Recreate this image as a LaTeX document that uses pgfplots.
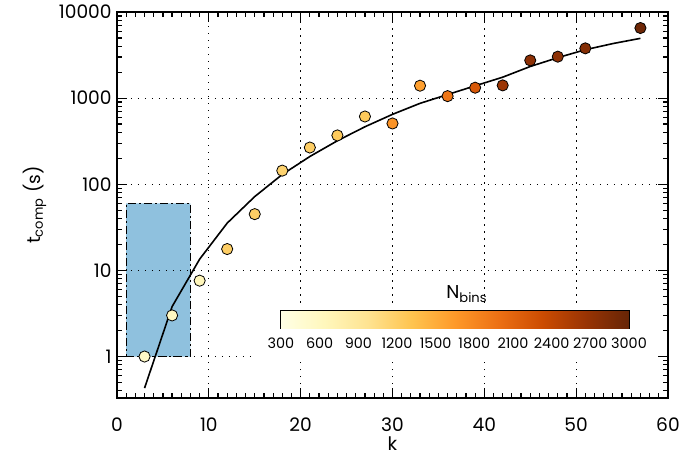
\documentclass[border=0pt]{standalone}
\usepackage{fontspec}
\setmainfont{Poppins}
\usepackage{pgfplots}
\usepackage{pgfplotstable}
\pgfplotsset{compat=1.18}
\pgfplotstableread{
k t n
3 1.0 550
6 3.0 600
9 7.6 650
12 17.7 1200
15 45 1200
18 144 1150
21 267 1200
24 369 1250
27 612 1250
30 508 1700
33 1394 1600
36 1055 1950
39 1321 2200
42 1406 2650
45 2743 2750
48 3030 2750
51 3784 2800
57 6518 2950
}\pts
\pgfplotstableread{
k t
3 0.43
6 3.8
9 13.5
12 35.4
15 72
18 130
21 210
24 320
27 465
30 648
33 870
36 1100
39 1390
42 1750
45 2330
48 2950
51 3650
54 4300
57 4945
}\fitcurve
\definecolor{boxblue}{RGB}{143,193,222}
\pgfplotsset{colormap={ylorbr}{rgb255=(255,255,229) rgb255=(255,247,188) rgb255=(254,227,145) rgb255=(254,196,79) rgb255=(254,153,41) rgb255=(236,112,20) rgb255=(204,76,2) rgb255=(153,52,4) rgb255=(102,37,6)}}
\tikzset{gridline/.style={black, line width=0.5pt, dash pattern=on 0.7pt off 2.8pt}}
\begin{document}
\begin{tikzpicture}
\useasboundingbox (-58.5pt,-31.5pt) rectangle (290pt,199pt);
\begin{axis}[
  at={(0pt,0pt)}, anchor=south west,
  scale only axis, width=275.5pt, height=193pt,
  xmin=0, xmax=60, ymode=log, ymin=0.33, ymax=10000,
  xtick={0,10,...,60}, minor x tick num=9,
  ytick={1,10,100,1000,10000}, yticklabels={1,10,100,1000,10000},
  minor ytick={0.4,0.5,0.6,0.7,0.8,0.9,2,3,4,5,6,7,8,9,20,30,40,50,60,70,80,90,200,300,400,500,600,700,800,900,2000,3000,4000,5000,6000,7000,8000,9000},
  tick align=inside, xtick pos=both, ytick pos=both,
  major tick length=5pt, minor tick length=2.5pt,
  every tick/.style={black, line width=0.6pt},
  axis line style={line width=1pt},
  tick label style={font=\fontsize{9.3}{11}\selectfont},
  /pgf/number format/assume math mode=true,
  xticklabel style={anchor=base, yshift=-16.5pt},
  yticklabel style={anchor=east, inner sep=0pt, xshift=-2.5pt},
  xlabel={k}, ylabel={t\textsubscript{comp}\ (s)},
  label style={font=\fontsize{9.3}{11}\selectfont},
  xlabel style={at={(axis description cs:0.5,-0.137)}, anchor=base},
  ylabel style={at={(axis description cs:-0.149,0.5)}, anchor=center},
  colormap name=ylorbr,
  point meta min=300, point meta max=3000,
]
\addplot[fill=boxblue, draw=black, line width=0.5pt, dash pattern=on 4pt off 1.5pt on 1pt off 1.5pt] coordinates {(1,1) (8,1) (8,60) (1,60) (1,1)};
\addplot[gridline] coordinates {(10,0.33) (10,10000)};
\addplot[gridline] coordinates {(20,0.33) (20,0.91)};
\addplot[gridline] coordinates {(20,4.2) (20,10000)};
\addplot[gridline] coordinates {(30,0.33) (30,0.91)};
\addplot[gridline] coordinates {(30,4.2) (30,10000)};
\addplot[gridline] coordinates {(40,0.33) (40,0.91)};
\addplot[gridline] coordinates {(40,4.2) (40,10000)};
\addplot[gridline] coordinates {(50,0.33) (50,0.91)};
\addplot[gridline] coordinates {(50,4.2) (50,10000)};
\addplot[gridline] coordinates {(0,1) (15,1)};
\addplot[gridline] coordinates {(0,10) (60,10)};
\addplot[gridline] coordinates {(0,100) (60,100)};
\addplot[gridline] coordinates {(0,1000) (60,1000)};
\addplot[black, line width=0.8pt, no marks] table[x=k, y=t] {\fitcurve};
\addplot[scatter, only marks, mark=*, mark size=2.8pt, point meta=explicit,
  scatter/use mapped color={draw=black, fill=mapped color},
  mark options={line width=0.4pt}] table[x=k, y=t, meta=n] {\pts};
\end{axis}
\begin{axis}[
  at={(82pt,34.65pt)}, anchor=south west,
  scale only axis, width=174pt, height=9pt,
  xmin=300, xmax=3000, ymin=0, ymax=1,
  ytick=\empty,
  xtick={300,600,...,3000},
  xtick pos=both,
  tick align=inside, major tick length=3pt,
  every tick/.style={black, line width=0.5pt},
  axis line style={line width=0.6pt},
  xticklabel style={font=\fontsize{7.2}{8}\selectfont, anchor=base, yshift=-9.8pt},
  /pgf/number format/assume math mode=true,
  /pgf/number format/1000 sep={},
  title={N\textsubscript{bins}},
  title style={font=\fontsize{9.3}{11}\selectfont, at={(0.5,1)}, anchor=base, yshift=0pt, xshift=6pt},
  colormap name=ylorbr,
  point meta min=300, point meta max=3000,
]
\addplot[surf, shader=interp, point meta=x, mesh/rows=2] coordinates {(300,0) (3000,0) (300,1) (3000,1)};
\end{axis}
\end{tikzpicture}
\end{document}
